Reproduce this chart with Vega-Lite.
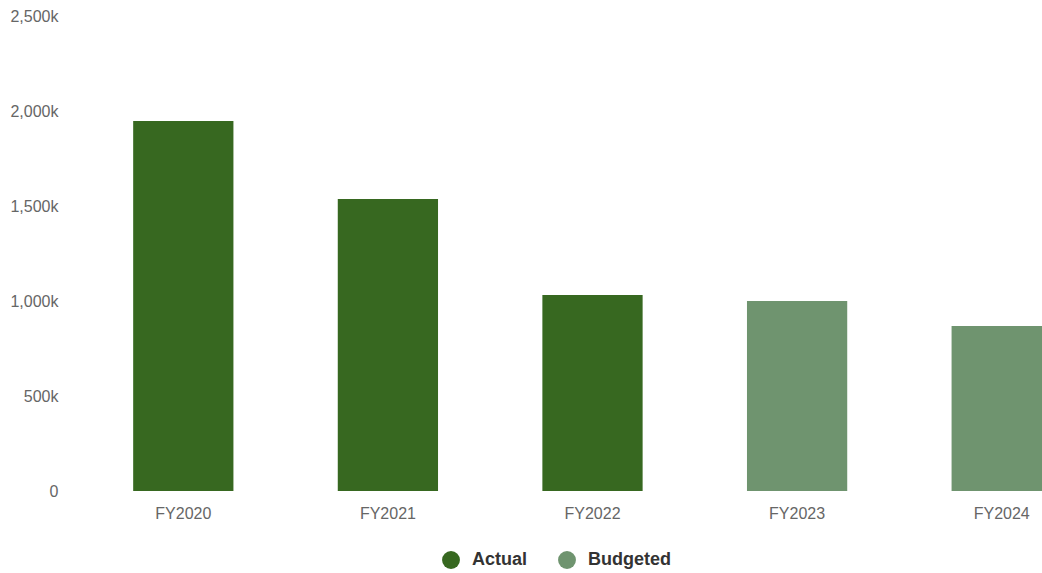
{
  "$schema": "https://vega.github.io/schema/vega-lite/v6.json",
  "width": 1023,
  "height": 475,
  "padding": {"left": 9, "top": 8, "right": 0, "bottom": 0},
  "background": "white",
  "config": {"view": {"stroke": null}, "font": "Liberation Sans"},
  "data": {"values": [
    {"year": "FY2020", "value": 1947000, "type": "Actual"},
    {"year": "FY2021", "value": 1537000, "type": "Actual"},
    {"year": "FY2022", "value": 1032000, "type": "Actual"},
    {"year": "FY2023", "value": 1000000, "type": "Budgeted"},
    {"year": "FY2024", "value": 868000, "type": "Budgeted"}
  ]},
  "mark": {"type": "bar"},
  "encoding": {
    "x": {"field": "year", "type": "nominal", "sort": null, "title": null,
      "scale": {"paddingInner": 0.51, "paddingOuter": 0.255},
      "axis": {"labelAngle": 0, "ticks": false, "domain": false, "labelPadding": 14, "labelFontSize": 16, "labelColor": "#666666", "grid": false}},
    "y": {"field": "value", "type": "quantitative", "title": null,
      "scale": {"domain": [0, 2500000], "nice": false},
      "axis": {"values": [0, 500000, 1000000, 1500000, 2000000, 2500000], "ticks": false, "domain": false, "grid": false, "labelPadding": 23, "labelFontSize": 16, "labelColor": "#666666",
        "labelExpr": "datum.value == 0 ? '0' : format(datum.value / 1000, ',') + 'k'"}},
    "color": {"field": "type", "type": "nominal", "title": null,
      "scale": {"domain": ["Actual", "Budgeted"], "range": ["#376820", "#6f946f"]},
      "legend": {"orient": "none", "direction": "horizontal", "legendX": 361, "legendY": 535, "symbolType": "circle", "symbolSize": 320, "symbolStrokeWidth": 0, "symbolOpacity": 1, "labelFontSize": 18, "labelFontWeight": "bold", "labelColor": "#333333", "labelOffset": 12, "columnPadding": 30}}
  }
}
